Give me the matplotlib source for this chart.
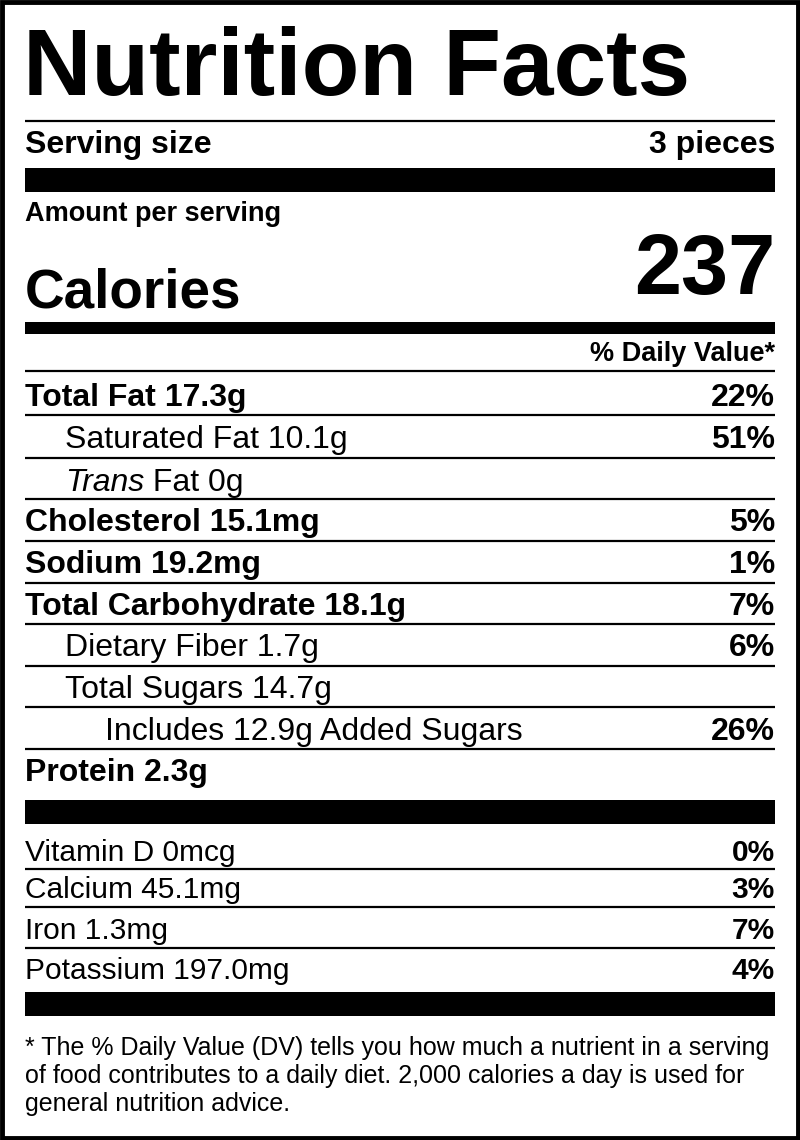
import matplotlib
matplotlib.use("Agg")
import matplotlib.pyplot as plt

plt.rcParams['font.family'] = ['Liberation Sans', 'DejaVu Sans']

serving_size = "3 pieces"
calories = "237"
rows = [
    ([("Total Fat", "bold"), (" 17.3g", "bold")], "22%", 0),
    ([("Saturated Fat 10.1g", "normal")], "51%", 1),
    ([("Trans", "italic"), (" Fat 0g", "normal")], "", 1),
    ([("Cholesterol 15.1mg", "bold")], "5%", 0),
    ([("Sodium 19.2mg", "bold")], "1%", 0),
    ([("Total Carbohydrate 18.1g", "bold")], "7%", 0),
    ([("Dietary Fiber 1.7g", "normal")], "6%", 1),
    ([("Total Sugars 14.7g", "normal")], "", 1),
    ([("Includes 12.9g Added Sugars", "normal")], "26%", 2),
    ([("Protein 2.3g", "bold")], "", 0),
]
vitamins = ["Vitamin D 0mcg", "Calcium 45.1mg", "Iron 1.3mg", "Potassium 197.0mg"]
vit_dv = ["0%", "3%", "7%", "4%"]
footnote = ["* The % Daily Value (DV) tells you how much a nutrient in a serving",
            "of food contributes to a daily diet. 2,000 calories a day is used for",
            "general nutrition advice."]

fig = plt.figure(figsize=(8, 11.4), dpi=100)
ax = fig.add_axes([0, 0, 1, 1])
ax.set_xlim(0, 800); ax.set_ylim(1140, 0); ax.axis('off')
ax.add_patch(plt.Rectangle((2, 2), 796, 1136, fill=False, lw=3.5, ec='black'))

L, R = 25, 775
D = 3
def hline(y, w=1.6):
    ax.plot([L, R], [y, y], color='black', lw=w, solid_capstyle='butt')
def bar(y0, y1):
    ax.add_patch(plt.Rectangle((L, y0), R - L, y1 - y0, color='black', lw=0))

ax.text(L - 2, 70, "Nutrition Facts", fontsize=68, fontweight='bold', va='center')
hline(121)
ax.text(L, 142 + D, "Serving size", fontsize=23, fontweight='bold', va='center')
ax.text(R, 142 + D, serving_size, fontsize=23, fontweight='bold', va='center', ha='right')
bar(168, 192)
ax.text(L, 211 + D, "Amount per serving", fontsize=19.5, fontweight='bold', va='center')
ax.text(L, 290 + D, "Calories", fontsize=39.5, fontweight='bold', va='center')
ax.text(R, 272, calories, fontsize=61, fontweight='bold', va='center', ha='right')
bar(322, 334)
ax.text(R, 351 + D, "% Daily Value*", fontsize=19.5, fontweight='bold', va='center', ha='right')
hline(371)

ys = [395, 437, 480, 520, 562, 604, 645, 687, 729, 770]
lines = [415, 458, 499, 541, 583, 624, 666, 707, 749]
for (parts, dv, ind), y in zip(rows, ys):
    x = L + 40 * ind
    for txt, st in parts:
        kw = dict(fontsize=23, va='center')
        if st == 'bold': kw['fontweight'] = 'bold'
        if st == 'italic': kw['fontstyle'] = 'italic'
        t = ax.text(x, y + D, txt, **kw)
        fig.canvas.draw()
        bb = t.get_window_extent()
        x = ax.transData.inverted().transform((bb.x1, 0))[0]
    if dv:
        ax.text(R, y + D, dv, fontsize=23, fontweight='bold', va='center', ha='right')
for y in lines:
    hline(y)
bar(800, 824)
for v, d, y in zip(vitamins, vit_dv, [850, 887, 928, 968]):
    ax.text(L, y + D, v, fontsize=21.5, va='center')
    ax.text(R, y + D, d, fontsize=21.5, fontweight='bold', va='center', ha='right')
for y in [869, 907, 948]:
    hline(y)
bar(992, 1016)
for t, y in zip(footnote, [1045, 1073, 1101]):
    ax.text(L, y + D, t, fontsize=18, va='center')

fig.savefig("out.png", dpi=100)
